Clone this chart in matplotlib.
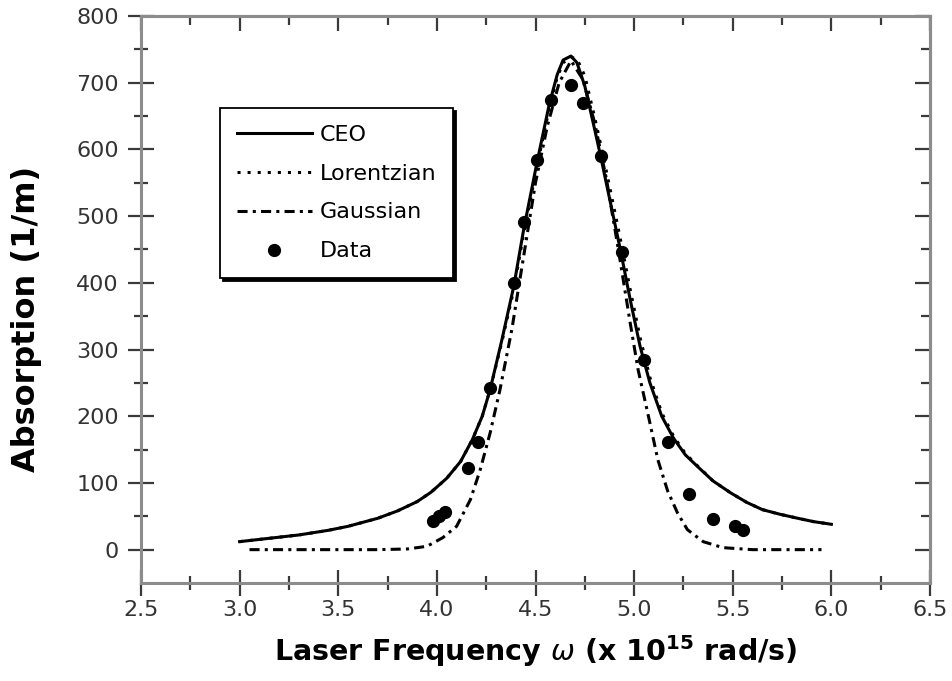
import numpy as np
import matplotlib
matplotlib.use("Agg")
import matplotlib.pyplot as plt
from matplotlib.ticker import MultipleLocator, FixedLocator, FormatStrFormatter

# values
ceo_x = [3.00, 3.15, 3.30, 3.45, 3.55, 3.70, 3.80, 3.90, 3.97, 4.05, 4.12, 4.18, 4.23, 4.27,
         4.33, 4.39, 4.44, 4.51, 4.57, 4.61, 4.64, 4.68, 4.71, 4.75, 4.80, 4.83, 4.88, 4.93,
         4.98, 5.03, 5.08, 5.14, 5.20, 5.26, 5.32, 5.40, 5.49, 5.57, 5.65, 5.74, 5.83, 5.91, 6.00]
ceo_y = [12, 17, 22, 29, 35, 47, 58, 72, 86, 107, 132, 165, 200, 240,
         315, 395, 480, 584, 668, 712, 734, 740, 730, 695, 630, 590, 520, 450,
         375, 305, 250, 200, 167, 142, 125, 103, 85, 71, 60, 53, 47, 42, 38]

# lorentzian sits almost on top of the CEO curve, a bit to the right on the falling side
lor_x = ceo_x
lor_y = [12, 17, 22, 29, 35, 47, 58, 72, 86, 107, 132, 165, 200, 240,
         312, 390, 474, 578, 662, 708, 730, 738, 736, 710, 648, 608, 538, 466,
         390, 318, 258, 205, 170, 144, 126, 103, 85, 71, 60, 53, 47, 42, 38]

gau_x = [3.05, 3.40, 3.70, 3.85, 3.95, 4.03, 4.10, 4.17, 4.22, 4.27, 4.32, 4.38, 4.44, 4.50,
         4.56, 4.62, 4.68, 4.74, 4.80, 4.86, 4.92, 4.98, 5.02, 5.08, 5.12, 5.17, 5.22, 5.27,
         5.35, 5.45, 5.60, 5.95]
gau_y = [0, 0, 0, 1, 5, 18, 35, 75, 120, 175, 240, 330, 440, 550,
         635, 700, 733, 705, 640, 555, 450, 340, 270, 190, 135, 88, 55, 30,
         12, 3, 0, 0]

data_x = [3.98, 4.01, 4.04, 4.16, 4.21, 4.27, 4.39, 4.44, 4.51, 4.58,
          4.68, 4.74, 4.83, 4.94, 5.05, 5.17, 5.28, 5.40, 5.51, 5.55]
data_y = [43, 51, 57, 123, 162, 242, 400, 491, 584, 674,
          697, 670, 590, 446, 285, 161, 83, 46, 35, 29]

y_major = [0, 100, 200, 300, 400, 500, 600, 700, 800]
y_minor = [50, 150, 250, 350, 450, 550, 650, 750]

spine_col = "#8c8c8c"
tick_col = "#3a3a3a"

fig = plt.figure(figsize=(9.52, 6.81), dpi=100)
ax = fig.add_axes([141 / 952, 98 / 681, 789 / 952, 567 / 681])

ax.plot(ceo_x, ceo_y, color="black", lw=2.2, ls="-", label="CEO")
ax.plot(lor_x, lor_y, color="black", lw=2.2, ls=(0, (1, 2.3)), label="Lorentzian")
ax.plot(gau_x, gau_y, color="black", lw=2.2, ls=(0, (3.3, 1.7, 1, 1.7)), label="Gaussian")
ax.plot(data_x, data_y, "o", color="black", ms=8.5, label="Data")

ax.set_xlim(2.5, 6.5)
ax.set_ylim(-50, 800)
ax.xaxis.set_major_locator(MultipleLocator(0.5))
ax.xaxis.set_minor_locator(MultipleLocator(0.25))
ax.xaxis.set_major_formatter(FormatStrFormatter("%.1f"))
ax.yaxis.set_major_locator(FixedLocator(y_major))
ax.yaxis.set_minor_locator(FixedLocator(y_minor))

for s in ax.spines.values():
    s.set_color(spine_col)
    s.set_linewidth(2.2)

ax.tick_params(which="major", direction="inout", length=19, width=1.6, color=tick_col,
               labelsize=16, labelcolor="#333333", top=False, right=False)
ax.tick_params(axis="y", which="major", pad=6.5)
ax.tick_params(axis="x", which="major", pad=3)
ax.tick_params(which="minor", direction="inout", length=10.5, width=1.6, color=tick_col,
               top=False, right=False)

# top and right ticks point inward only
top = ax.secondary_xaxis("top")
top.xaxis.set_major_locator(MultipleLocator(0.5))
top.xaxis.set_minor_locator(MultipleLocator(0.25))
top.tick_params(which="major", direction="in", length=11, width=1.6, color=tick_col, labeltop=False)
top.tick_params(which="minor", direction="in", length=6.5, width=1.6, color=tick_col)
right = ax.secondary_yaxis("right")
right.yaxis.set_major_locator(FixedLocator(y_major))
right.yaxis.set_minor_locator(FixedLocator(y_minor))
right.tick_params(which="major", direction="in", length=11, width=1.6, color=tick_col, labelright=False)
right.tick_params(which="minor", direction="in", length=6.5, width=1.6, color=tick_col)
for sec in (top, right):
    for s in sec.spines.values():
        s.set_color(spine_col)
        s.set_linewidth(2.2)

ax.set_ylabel("Absorption (1/m)", fontsize=23, fontweight="bold")
ax.yaxis.set_label_coords(-0.1255, 0.466)
ax.set_xlabel(r"Laser Frequency $\omega$ (x 10$^{\mathbf{15}}$ rad/s)", fontsize=20.5,
              fontweight="bold")
ax.xaxis.set_label_coords(0.5, -0.088)

leg = ax.legend(loc="upper left", bbox_to_anchor=(220 / 952, 1 - 108 / 681),
                bbox_transform=fig.transFigure, borderaxespad=0, fontsize=16,
                fancybox=False, shadow={"color": "black", "alpha": 1},
                handlelength=3.4, handletextpad=0.35, labelspacing=0.85,
                borderpad=0.75, numpoints=1)
leg.get_frame().set_edgecolor("black")
leg.get_frame().set_linewidth(1.3)

fig.savefig("out.png", dpi=100)
